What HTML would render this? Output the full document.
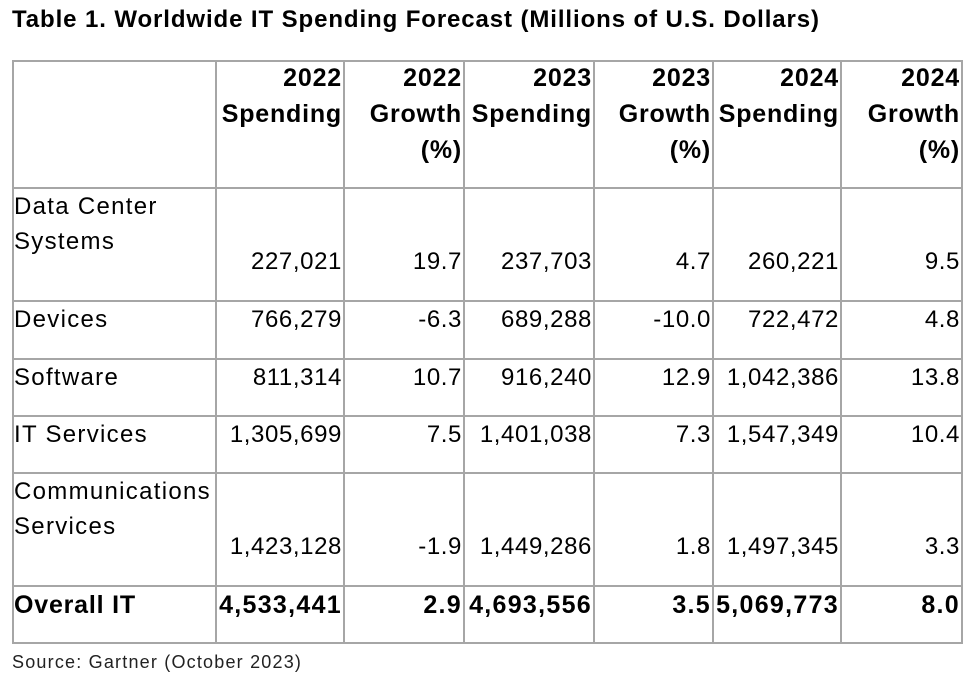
<!DOCTYPE html>
<html><head><meta charset="utf-8"><style>
body{margin:0;background:#fff;width:975px;height:683px;position:relative;overflow:hidden;font-family:"Liberation Sans",sans-serif;color:#000}
.t{position:absolute;white-space:nowrap;line-height:1}
.l{position:absolute;background:#a6a6a6}
</style></head><body>
<div class="t" style="left:12px;top:8px;font-size:24px;font-weight:bold;letter-spacing:0.9px">Table 1. Worldwide IT Spending Forecast (Millions of U.S. Dollars)</div>
<div class="t" style="left:12px;top:653px;font-size:18px;letter-spacing:1.2px;color:#222">Source: Gartner (October 2023)</div>
<div id="tbl"></div>
<script>
const headers=[["2022","Spending"],["2022","Growth","(%)"],["2023","Spending"],["2023","Growth","(%)"],["2024","Spending"],["2024","Growth","(%)"]];
const categories=[["Data Center","Systems"],["Devices"],["Software"],["IT Services"],["Communications","Services"],["Overall IT"]];
const spend2022=["227,021","766,279","811,314","1,305,699","1,423,128","4,533,441"];
const growth2022=["19.7","-6.3","10.7","7.5","-1.9","2.9"];
const spend2023=["237,703","689,288","916,240","1,401,038","1,449,286","4,693,556"];
const growth2023=["4.7","-10.0","12.9","7.3","1.8","3.5"];
const spend2024=["260,221","722,472","1,042,386","1,547,349","1,497,345","5,069,773"];
const growth2024=["9.5","4.8","13.8","10.4","3.3","8.0"];
const colX=[12,215,343,463,593,712,840,961];
const rowY=[60,187,300,358,415,472,585,642];
const tbl=document.getElementById('tbl');
function txt(s,x,y,right,bold,kind,name){
  const d=document.createElement('div');d.className='t';d.textContent=s;
  
  
  d.style.top=(y-12)+'px';
  if(bold){d.style.fontWeight='bold';d.style.fontSize='25px';d.style.letterSpacing=kind==='num'?'1.3px':'0.8px';}
  else{d.style.fontSize='24px';d.style.letterSpacing=kind==='num'?'0.6px':'1.3px';}
  if(right){d.style.right=(975-x+1)+'px';}else{d.style.left=(x+2)+'px';}
  tbl.appendChild(d);
}
colX.forEach((x)=>{const d=document.createElement('div');d.className='l';


d.style.left=x+'px';d.style.top=rowY[0]+'px';d.style.width='2px';d.style.height=(rowY[7]-rowY[0]+2)+'px';tbl.appendChild(d);});
rowY.forEach((y)=>{const d=document.createElement('div');d.className='l';


d.style.left=colX[0]+'px';d.style.top=y+'px';d.style.height='2px';d.style.width=(colX[7]-colX[0]+2)+'px';tbl.appendChild(d);});
headers.forEach((h,i)=>h.forEach((s,j)=>txt(s,colX[i+2],78+j*36,true,true,'txt','column-header')));
const cols=[spend2022,growth2022,spend2023,growth2023,spend2024,growth2024];
categories.forEach((c,r)=>{
  const top=rowY[r+1];const bot=rowY[r+2];const bold=r===5;
  c.forEach((s,j)=>txt(s,colX[0],top+20+j*35,false,bold,'txt','row-label'));
  const vy=c.length>1?bot-38:top+20;
  cols.forEach((col,i)=>txt(col[r],colX[i+2],vy,true,bold,'num','cell-value'));
});
</script>
</body></html>
